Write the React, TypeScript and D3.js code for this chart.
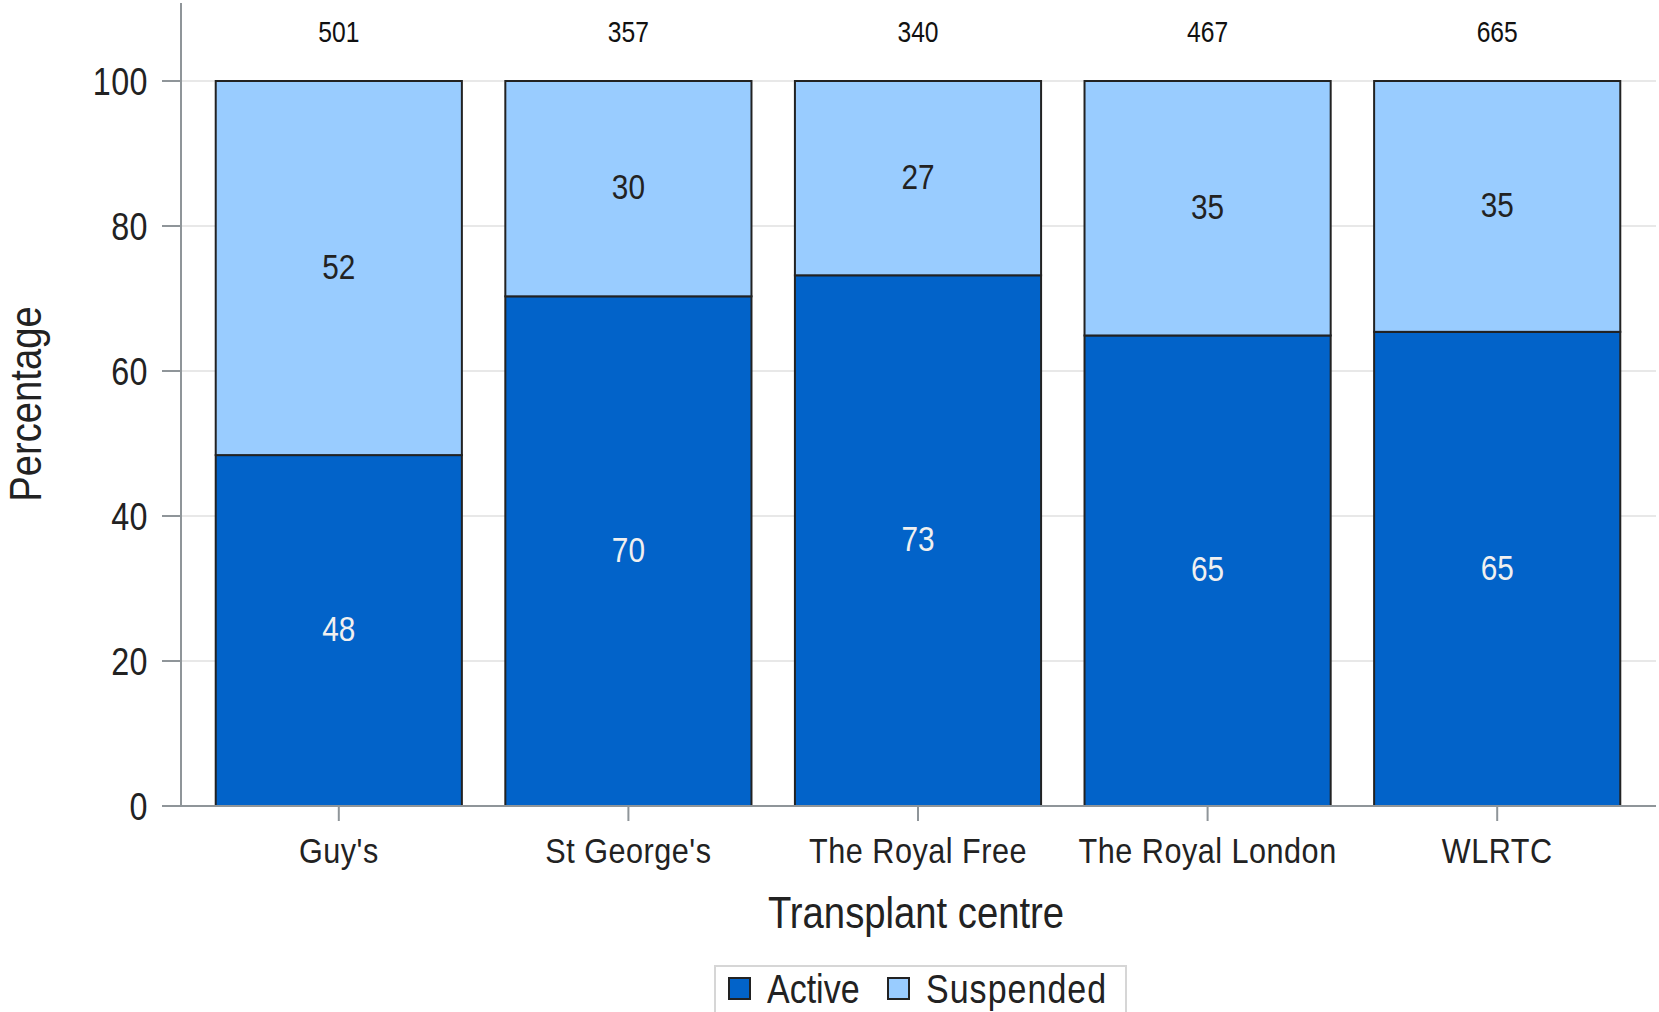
import React from "react";
import * as d3 from "d3";

const centres = ["Guy's", "St George's", "The Royal Free", "The Royal London", "WLRTC"];
const totals = [501, 357, 340, 467, 665];
const activePct = [48.4, 70.3, 73.2, 64.9, 65.4];
const suspendedPct = [51.6, 29.7, 26.8, 35.1, 34.6];
const yTicks = [0, 20, 40, 60, 80, 100];
const seriesNames = ["Active", "Suspended"];

const width = 1659;
const height = 1012;
const FONT = "'Liberation Sans', Arial, sans-serif";
const colors = { Active: "#0263c9", Suspended: "#99ccff" };
const axisGray = "#8f9599";
const SQUEEZE = 0.85; // reference uses a narrow sans, so squeeze horizontally

// text drawn at (x, y), narrowed along its own direction
function NText({ x, y, rotate = 0, size, anchor = "middle", fill = "#222", dy = "0.36em", spacing = 0, children }: any) {
  return (
    <text
      transform={`translate(${x},${y}) rotate(${rotate}) scale(${SQUEEZE},1)`}
      dy={dy}
      textAnchor={anchor}
      fontSize={size}
      fill={fill}
      letterSpacing={spacing}
    >
      {children}
    </text>
  );
}

export default function App() {
  const x = d3.scaleBand<string>().domain(centres).range([194, 1642]).paddingInner(0.15).paddingOuter(0.075);
  const y = d3.scaleLinear().domain([0, 100]).range([806, 81]);
  const cx = (c: string) => x(c)! + x.bandwidth() / 2;

  const rows = centres.map((c, i) => ({ centre: c, Active: activePct[i], Suspended: suspendedPct[i] }));
  const stacked = d3.stack<any>().keys(seriesNames)(rows);

  return (
    <svg width={width} height={height} style={{ position: "absolute", left: 0, top: 0, background: "#fff" }} fontFamily={FONT}>
      {/* grid */}
      {yTicks.filter((t) => t > 0).map((t) => (
        <line key={"g" + t} x1={181} x2={1656} y1={y(t)} y2={y(t)} stroke="#e8e8e8" strokeWidth={2} />
      ))}
      {/* bars */}
      {stacked.map((s) =>
        s.map((d, i) => (
          <rect
            key={s.key + i}
            x={x(centres[i])}
            y={y(d[1])}
            width={x.bandwidth()}
            height={y(d[0]) - y(d[1])}
            fill={colors[s.key as "Active"]}
            stroke="#222"
            strokeWidth={2}
          />
        ))
      )}
      {/* segment labels */}
      {stacked.map((s) =>
        s.map((d, i) => (
          <NText
            key={"l" + s.key + i}
            x={cx(centres[i])}
            y={y((d[0] + d[1]) / 2) - 2}
            size={35}
            fill={s.key === "Active" ? "#f0f0f0" : "#222"}
          >
            {Math.round(d[1] - d[0])}
          </NText>
        ))
      )}
      {/* totals */}
      {totals.map((t, i) => (
        <NText key={"t" + i} x={cx(centres[i])} y={32} size={29} fill="#111">
          {t}
        </NText>
      ))}
      {/* axes */}
      <line x1={181} x2={181} y1={3} y2={806} stroke={axisGray} strokeWidth={2} />
      <line x1={162} x2={1656} y1={806} y2={806} stroke={axisGray} strokeWidth={2} />
      {yTicks.map((t) => (
        <g key={"y" + t}>
          <line x1={162} x2={181} y1={y(t)} y2={y(t)} stroke={axisGray} strokeWidth={2} />
          <NText x={148} y={y(t)} size={38} anchor="end" spacing={0.5}>
            {t}
          </NText>
        </g>
      ))}
      {centres.map((c) => (
        <g key={"x" + c}>
          <line x1={cx(c)} x2={cx(c)} y1={806} y2={821} stroke={axisGray} strokeWidth={2} />
          <NText x={cx(c)} y={850} size={36} spacing={0.6}>
            {c}
          </NText>
        </g>
      ))}
      <NText x={916} y={912} size={45}>
        Transplant centre
      </NText>
      <NText x={41} y={404} rotate={-90} size={45} dy={0}>
        Percentage
      </NText>
      {/* legend */}
      <rect x={715} y={966} width={411} height={60} fill="#fff" stroke="#d6d6d6" strokeWidth={2} />
      {seriesNames.map((n, i) => {
        const lx = i === 0 ? 729 : 888;
        return (
          <g key={"lg" + n}>
            <rect x={lx} y={978} width={21} height={21} fill={colors[n as "Active"]} stroke="#222" strokeWidth={2} />
            <NText x={lx + 38} y={989} size={40} anchor="start" spacing={i === 0 ? 0 : 1.2}>
              {n}
            </NText>
          </g>
        );
      })}
    </svg>
  );
}
